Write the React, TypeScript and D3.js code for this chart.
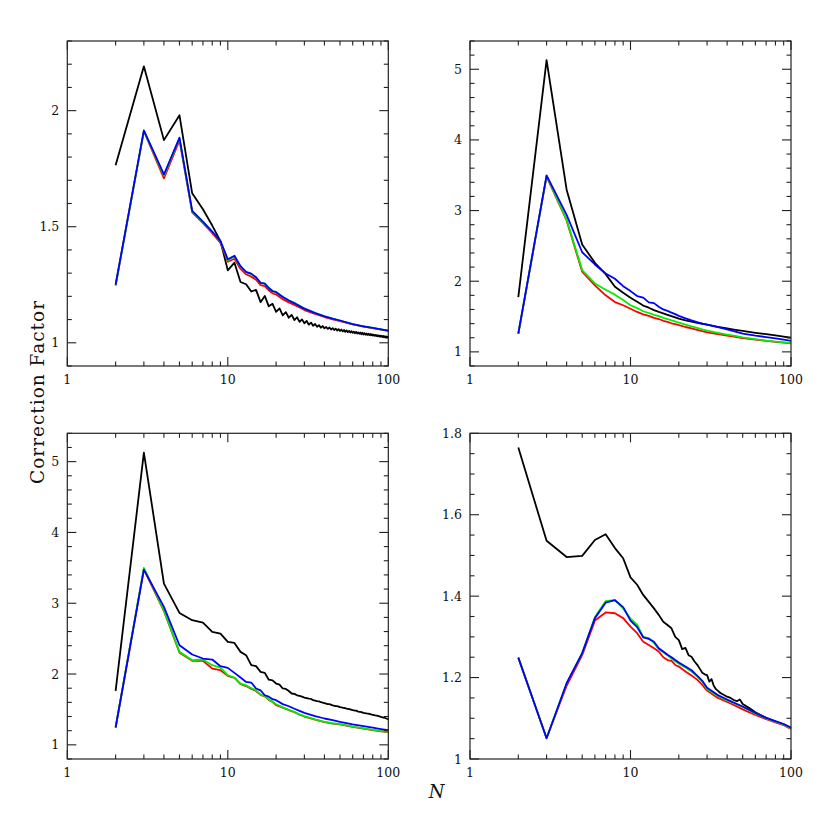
import { useEffect, useRef } from 'react'
import * as d3 from 'd3'

// shared N grid for the smooth curves
const nGrid = [2, 3, 4, 5, 6, 7, 8, 9, 10, 11, 12, 13, 14, 15, 16, 17, 18, 19, 20, 22, 24, 26, 28, 30, 35, 40, 45, 50, 60, 70, 80, 90, 100]

// panel 1 (top left)
const p1BlackN = d3.range(2, 101)
const p1Black = [
  1.765, 2.191, 1.873, 1.980, 1.644, 1.575, 1.505, 1.438, 1.312, 1.345,
  1.262, 1.252, 1.221, 1.228, 1.175, 1.202, 1.157, 1.168, 1.133, 1.148,
  1.118, 1.132, 1.108, 1.120, 1.098, 1.110, 1.090, 1.101, 1.084, 1.094,
  1.078, 1.087, 1.073, 1.081, 1.069, 1.076, 1.065, 1.072, 1.062, 1.068,
  1.060, 1.066, 1.057, 1.063, 1.055, 1.061, 1.053, 1.059, 1.051, 1.057,
  1.049, 1.055, 1.047, 1.053, 1.046, 1.051, 1.044, 1.050, 1.043, 1.048,
  1.041, 1.047, 1.040, 1.045, 1.039, 1.044, 1.037, 1.043, 1.036, 1.041,
  1.035, 1.040, 1.034, 1.039, 1.033, 1.038, 1.032, 1.037, 1.031, 1.035,
  1.030, 1.034, 1.029, 1.033, 1.028, 1.032, 1.027, 1.031, 1.026, 1.030,
  1.025, 1.029, 1.024, 1.028, 1.023, 1.027, 1.022, 1.026, 1.021,
]
const p1Red = [1.250, 1.912, 1.708, 1.872, 1.562, 1.515, 1.472, 1.430, 1.349, 1.362, 1.318, 1.295, 1.285, 1.272, 1.248, 1.244, 1.226, 1.213, 1.208, 1.188, 1.174, 1.163, 1.152, 1.141, 1.124, 1.111, 1.101, 1.093, 1.079, 1.070, 1.063, 1.057, 1.051]
const p1Green = [1.245, 1.913, 1.720, 1.880, 1.566, 1.520, 1.477, 1.437, 1.356, 1.372, 1.327, 1.303, 1.296, 1.280, 1.257, 1.256, 1.237, 1.224, 1.219, 1.198, 1.183, 1.172, 1.159, 1.148, 1.129, 1.115, 1.104, 1.096, 1.080, 1.071, 1.064, 1.058, 1.052]
const p1Blue = [1.250, 1.915, 1.725, 1.884, 1.568, 1.522, 1.479, 1.438, 1.360, 1.375, 1.330, 1.305, 1.298, 1.282, 1.258, 1.255, 1.236, 1.222, 1.218, 1.197, 1.182, 1.170, 1.158, 1.147, 1.128, 1.114, 1.104, 1.096, 1.080, 1.071, 1.064, 1.058, 1.052]

// panel 2 (top right)
const p2Black = [1.776, 5.130, 3.295, 2.520, 2.260, 2.100, 1.922, 1.837, 1.767, 1.710, 1.655, 1.625, 1.590, 1.565, 1.545, 1.525, 1.505, 1.488, 1.470, 1.445, 1.428, 1.412, 1.398, 1.385, 1.355, 1.332, 1.312, 1.296, 1.270, 1.250, 1.232, 1.215, 1.200]
const p2Red = [1.255, 3.480, 2.860, 2.134, 1.940, 1.800, 1.705, 1.660, 1.610, 1.565, 1.530, 1.510, 1.480, 1.465, 1.440, 1.425, 1.405, 1.392, 1.377, 1.352, 1.332, 1.312, 1.292, 1.275, 1.250, 1.230, 1.212, 1.195, 1.172, 1.155, 1.141, 1.130, 1.120]
const p2Green = [1.255, 3.490, 2.870, 2.157, 1.969, 1.880, 1.810, 1.735, 1.660, 1.620, 1.575, 1.550, 1.525, 1.505, 1.480, 1.465, 1.445, 1.430, 1.414, 1.385, 1.362, 1.340, 1.318, 1.300, 1.270, 1.245, 1.225, 1.205, 1.180, 1.160, 1.145, 1.133, 1.123]
const p2Blue = [1.260, 3.497, 2.940, 2.410, 2.237, 2.110, 2.035, 1.930, 1.860, 1.790, 1.767, 1.700, 1.690, 1.640, 1.600, 1.580, 1.555, 1.535, 1.510, 1.475, 1.445, 1.420, 1.400, 1.385, 1.350, 1.318, 1.285, 1.258, 1.230, 1.210, 1.190, 1.172, 1.155]

// panel 3 (bottom left)
const p3BlackN = [2, 3, 4, 5, 6, 7, 8, 9, 10, 11, 12, 13, 14, 15, 16, 17, 18, 19, 20, 21, 22, 23, 24, 25, 26, 27, 28, 29, 30, 32, 33, 34, 36, 37, 38, 40, 42, 43, 45, 47, 48, 50, 52, 53, 55, 58, 60, 62, 63, 65, 68, 70, 73, 75, 78, 80, 83, 85, 88, 90, 93, 95, 98, 100]
const p3Black = [
  1.762, 5.127, 3.278, 2.863, 2.760, 2.727, 2.595, 2.572, 2.454, 2.440,
  2.313, 2.266, 2.125, 2.111, 2.030, 2.016, 1.920, 1.910, 1.866, 1.850,
  1.796, 1.790, 1.760, 1.725, 1.720, 1.700, 1.690, 1.680, 1.668, 1.652,
  1.648, 1.632, 1.618, 1.614, 1.602, 1.590, 1.576, 1.574, 1.558, 1.548,
  1.546, 1.532, 1.524, 1.522, 1.510, 1.500, 1.490, 1.484, 1.482, 1.470,
  1.462, 1.452, 1.444, 1.440, 1.430, 1.424, 1.416, 1.412, 1.402, 1.394,
  1.386, 1.382, 1.368, 1.360,
]
const p3Red = [1.245, 3.480, 2.890, 2.300, 2.187, 2.186, 2.078, 2.054, 1.974, 1.945, 1.858, 1.830, 1.790, 1.760, 1.705, 1.685, 1.635, 1.605, 1.560, 1.525, 1.490, 1.460, 1.425, 1.400, 1.355, 1.320, 1.300, 1.288, 1.255, 1.228, 1.207, 1.192, 1.180]
const p3Green = [1.245, 3.500, 2.900, 2.313, 2.195, 2.205, 2.125, 2.092, 1.983, 1.950, 1.866, 1.840, 1.800, 1.770, 1.710, 1.690, 1.640, 1.610, 1.574, 1.530, 1.495, 1.465, 1.430, 1.405, 1.360, 1.325, 1.305, 1.292, 1.258, 1.231, 1.210, 1.195, 1.184]
const p3Blue = [1.245, 3.475, 2.948, 2.407, 2.276, 2.219, 2.205, 2.111, 2.087, 2.016, 1.950, 1.888, 1.880, 1.796, 1.770, 1.700, 1.680, 1.645, 1.630, 1.575, 1.545, 1.510, 1.480, 1.452, 1.405, 1.372, 1.348, 1.325, 1.290, 1.264, 1.242, 1.223, 1.207]

// panel 4 (bottom right)
const p4BlackN = [2, 3, 4, 5, 6, 7, 8, 9, 10, 11, 12, 13, 14, 15, 16, 17, 18, 19, 20, 21, 22, 23, 24, 25, 26, 27, 28, 29, 30, 31, 32, 33, 34, 35, 36, 38, 40, 42, 44, 46, 48, 50, 55, 60, 70, 80, 90, 100]
const p4Black = [1.765, 1.536, 1.496, 1.499, 1.538, 1.552, 1.518, 1.493, 1.446, 1.428, 1.403, 1.386, 1.370, 1.354, 1.337, 1.329, 1.321, 1.300, 1.292, 1.270, 1.273, 1.255, 1.251, 1.240, 1.232, 1.222, 1.212, 1.208, 1.206, 1.190, 1.196, 1.180, 1.172, 1.168, 1.163, 1.158, 1.153, 1.150, 1.145, 1.142, 1.146, 1.135, 1.125, 1.115, 1.101, 1.092, 1.085, 1.075]
const p4Red = [1.249, 1.051, 1.180, 1.255, 1.340, 1.360, 1.358, 1.346, 1.325, 1.309, 1.288, 1.280, 1.272, 1.264, 1.250, 1.243, 1.241, 1.231, 1.227, 1.215, 1.205, 1.195, 1.182, 1.168, 1.150, 1.140, 1.131, 1.122, 1.108, 1.098, 1.090, 1.083, 1.074]
const p4Green = [1.249, 1.051, 1.186, 1.260, 1.348, 1.388, 1.390, 1.370, 1.345, 1.330, 1.300, 1.297, 1.285, 1.270, 1.262, 1.255, 1.247, 1.240, 1.234, 1.225, 1.215, 1.203, 1.190, 1.172, 1.155, 1.144, 1.136, 1.127, 1.112, 1.100, 1.092, 1.085, 1.075]
const p4Blue = [1.249, 1.051, 1.186, 1.260, 1.346, 1.384, 1.390, 1.373, 1.340, 1.324, 1.299, 1.295, 1.288, 1.272, 1.264, 1.256, 1.250, 1.243, 1.237, 1.227, 1.218, 1.205, 1.192, 1.175, 1.157, 1.146, 1.137, 1.129, 1.113, 1.101, 1.093, 1.086, 1.077]

const xMajor = [1, 10, 100]
const xMinor = [2, 3, 4, 5, 6, 7, 8, 9, 20, 30, 40, 50, 60, 70, 80, 90]

const FONT = '"DejaVu Serif", serif'

type Series = { n: number[]; v: number[]; color: string }

export default function App() {
  const ref = useRef<SVGSVGElement>(null)

  useEffect(() => {
    if (!ref.current) return
    const svg = d3.select(ref.current)
    svg.selectAll('*').remove()

    const panels = [
      { x0: 67.3, x1: 388.3, y0: 41, y1: 366, yDom: [0.9, 2.3], major: [1, 1.5, 2], step: 0.1,
        series: [{ n: p1BlackN, v: p1Black, color: '#000' }, { n: nGrid, v: p1Red, color: '#ff0000' }, { n: nGrid, v: p1Green, color: '#00ee00' }, { n: nGrid, v: p1Blue, color: '#0000ff' }] },
      { x0: 470, x1: 791, y0: 41, y1: 366, yDom: [0.8, 5.4], major: [1, 2, 3, 4, 5], step: 0.2,
        series: [{ n: nGrid, v: p2Black, color: '#000' }, { n: nGrid, v: p2Red, color: '#ff0000' }, { n: nGrid, v: p2Green, color: '#00ee00' }, { n: nGrid, v: p2Blue, color: '#0000ff' }] },
      { x0: 67.3, x1: 388.3, y0: 433.3, y1: 759, yDom: [0.8, 5.4], major: [1, 2, 3, 4, 5], step: 0.2,
        series: [{ n: p3BlackN, v: p3Black, color: '#000' }, { n: nGrid, v: p3Red, color: '#ff0000' }, { n: nGrid, v: p3Green, color: '#00ee00' }, { n: nGrid, v: p3Blue, color: '#0000ff' }] },
      { x0: 470, x1: 791, y0: 433.3, y1: 759, yDom: [1, 1.8], major: [1, 1.2, 1.4, 1.6, 1.8], step: 0.05,
        series: [{ n: p4BlackN, v: p4Black, color: '#000' }, { n: nGrid, v: p4Red, color: '#ff0000' }, { n: nGrid, v: p4Green, color: '#00ee00' }, { n: nGrid, v: p4Blue, color: '#0000ff' }] },
    ]

    const fmt = (d: number) => String(+d.toFixed(2))

    panels.forEach(p => {
      const x = d3.scaleLog().domain([1, 100]).range([p.x0, p.x1])
      const y = d3.scaleLinear().domain(p.yDom).range([p.y1, p.y0])
      const g = svg.append('g')

      // curves
      const line = d3.line<[number, number]>().x(d => x(d[0])).y(d => y(d[1]))
      p.series.forEach((s: Series) => {
        g.append('path')
          .attr('d', line(s.n.map((n, i) => [n, s.v[i]] as [number, number])))
          .attr('fill', 'none')
          .attr('stroke', s.color)
          .attr('stroke-width', 1.8)
          .attr('stroke-linejoin', 'round')
      })

      // ticks on all four sides, pointing in
      const tk = g.append('g').attr('stroke', '#222').attr('stroke-width', 1.1)
      const tickX = (v: number, len: number) => {
        tk.append('line').attr('x1', x(v)).attr('x2', x(v)).attr('y1', p.y1).attr('y2', p.y1 - len)
        tk.append('line').attr('x1', x(v)).attr('x2', x(v)).attr('y1', p.y0).attr('y2', p.y0 + len)
      }
      const tickY = (v: number, len: number) => {
        tk.append('line').attr('x1', p.x0).attr('x2', p.x0 + len).attr('y1', y(v)).attr('y2', y(v))
        tk.append('line').attr('x1', p.x1).attr('x2', p.x1 - len).attr('y1', y(v)).attr('y2', y(v))
      }
      xMajor.forEach(v => tickX(v, 9))
      xMinor.forEach(v => tickX(v, 4.5))
      d3.range(p.yDom[0], p.yDom[1] + 1e-6, p.step).forEach(v => {
        const isMajor = p.major.some(m => Math.abs(m - v) < 1e-6)
        tickY(v, isMajor ? 9 : 4.5)
      })

      // frame
      g.append('rect')
        .attr('x', p.x0).attr('y', p.y0)
        .attr('width', p.x1 - p.x0).attr('height', p.y1 - p.y0)
        .attr('fill', 'none').attr('stroke', '#222').attr('stroke-width', 1.2)

      // labels
      xMajor.forEach(v => {
        g.append('text')
          .attr('x', x(v)).attr('y', p.y1 + 18)
          .attr('text-anchor', 'middle')
          .style('font-family', FONT).style('font-size', '12.5px').style('fill', '#111')
          .text(String(v))
      })
      p.major.forEach(v => {
        g.append('text')
          .attr('x', p.x0 - 8).attr('y', y(v))
          .attr('dy', '0.36em')
          .attr('text-anchor', 'end')
          .style('font-family', FONT).style('font-size', '12.5px').style('fill', '#111')
          .text(fmt(v))
      })
    })

    svg.append('text')
      .attr('transform', 'translate(44,392) rotate(-90)')
      .attr('text-anchor', 'middle')
      .style('font-family', FONT).style('font-size', '18.5px').style('letter-spacing', '1px').style('fill', '#111')
      .text('Correction Factor')

    svg.append('text')
      .attr('x', 436.5).attr('y', 798)
      .attr('text-anchor', 'middle')
      .style('font-family', FONT).style('font-style', 'italic').style('font-size', '18px').style('fill', '#111')
      .text('N')
  }, [])

  return (
    <svg ref={ref} width={830} height={830}
      style={{ position: 'absolute', left: 0, top: 0, background: '#fff' }} />
  )
}
